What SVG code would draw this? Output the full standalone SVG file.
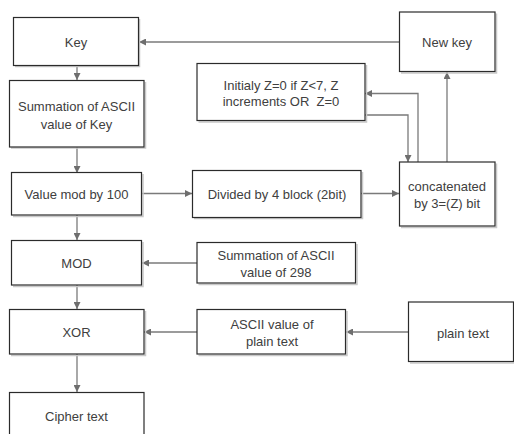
<svg xmlns="http://www.w3.org/2000/svg" width="514" height="434" viewBox="0 0 514 434">
<defs>
<style>
.box{fill:#fff;stroke:#2b2b2b;stroke-width:1.2}
.sh{fill:none;stroke:#c8c8c8;stroke-width:1.5}
.t{font-family:"Liberation Sans",Arial,sans-serif;font-size:13px;fill:#404040;text-anchor:middle}
.c{fill:none;stroke:#7a7a7a;stroke-width:1.3}
</style>
<marker id="ah" viewBox="0 0 10 10" refX="10" refY="5" markerWidth="7" markerHeight="7" orient="auto" markerUnits="userSpaceOnUse">
<path d="M0,0 L10,5 L0,10 z" fill="#6e6e6e"/>
</marker>
</defs>
<rect width="514" height="434" fill="#fff"/>
<g id="connectors">
<path class="c" d="M399,42 H139" marker-end="url(#ah)"/>
<path class="c" d="M77,65 V80" marker-end="url(#ah)"/>
<path class="c" d="M77,147 V173" marker-end="url(#ah)"/>
<path class="c" d="M142,193.5 H192" marker-end="url(#ah)"/>
<path class="c" d="M361,193.5 H399" marker-end="url(#ah)"/>
<path class="c" d="M447,162 V72" marker-end="url(#ah)"/>
<path class="c" d="M418,162 V93.5 H365" marker-end="url(#ah)"/>
<path class="c" d="M365,115 H408 V162" marker-end="url(#ah)"/>
<path class="c" d="M77,215 V240" marker-end="url(#ah)"/>
<path class="c" d="M197,263 H142" marker-end="url(#ah)"/>
<path class="c" d="M77,285 V309" marker-end="url(#ah)"/>
<path class="c" d="M408,332 H346" marker-end="url(#ah)"/>
<path class="c" d="M197,332 H144" marker-end="url(#ah)"/>
<path class="c" d="M77,354 V392" marker-end="url(#ah)"/>
</g>
<g id="key">
<path class="sh" d="M15,66.5 H139.5 V19"/>
<rect class="box" x="13.5" y="17.5" width="125" height="48"/>
<text class="t" x="76" y="46.5">Key</text>
</g>
<g id="sum-key">
<path class="sh" d="M11,148 H145.5 V82"/>
<rect class="box" x="9.5" y="80.5" width="134.5" height="66.5"/>
<text class="t" x="76.5" y="110.5">Summation of ASCII</text>
<text class="t" x="76.5" y="128.5">value of Key</text>
</g>
<g id="value-mod">
<path class="sh" d="M13,216.5 H143 V174"/>
<rect class="box" x="11.5" y="172.5" width="130" height="42.5"/>
<text class="t" x="76.5" y="198.5">Value mod by 100</text>
</g>
<g id="divided">
<path class="sh" d="M194,218.5 H362.5 V172"/>
<rect class="box" x="192.5" y="170.5" width="168.5" height="47"/>
<text class="t" x="277" y="198.5">Divided by 4 block (2bit)</text>
</g>
<g id="initialy">
<path class="sh" d="M198.5,122 H366.5 V65"/>
<rect class="box" x="197" y="63.5" width="168" height="57"/>
<text class="t" x="281" y="89.5">Initialy Z=0 if Z&lt;7, Z</text>
<text class="t" x="281" y="106">increments OR &#160;Z=0</text>
</g>
<g id="new-key">
<path class="sh" d="M401,73 H496.5 V13.5"/>
<rect class="box" x="399.5" y="12" width="95.5" height="59.5"/>
<text class="t" x="447" y="47">New key</text>
</g>
<g id="concat">
<path class="sh" d="M401,227.5 H496.5 V163.5"/>
<rect class="box" x="399.5" y="162" width="95.5" height="64"/>
<text class="t" x="447" y="190.5">concatenated</text>
<text class="t" x="447" y="207.5">by 3=(Z) bit</text>
</g>
<g id="mod">
<path class="sh" d="M13,286.5 H143 V242"/>
<rect class="box" x="11.5" y="240.5" width="130" height="44.5"/>
<text class="t" x="76.5" y="267.5">MOD</text>
</g>
<g id="sum-298">
<path class="sh" d="M198.5,284.5 H357 V244"/>
<rect class="box" x="197" y="242.5" width="158.5" height="40.5"/>
<text class="t" x="276" y="259.5">Summation of ASCII</text>
<text class="t" x="276" y="276.5">value of 298</text>
</g>
<g id="xor">
<path class="sh" d="M11,355.5 H145.5 V311"/>
<rect class="box" x="9.5" y="309.5" width="134.5" height="44.5"/>
<text class="t" x="76.5" y="337">XOR</text>
</g>
<g id="ascii-plain">
<path class="sh" d="M198.5,355.5 H347 V311"/>
<rect class="box" x="197" y="309.5" width="148.5" height="44.5"/>
<text class="t" x="272" y="328.5">ASCII value of</text>
<text class="t" x="272" y="346">plain text</text>
</g>
<g id="plain-text">
<path class="sh" d="M410,363 H515"/>
<rect class="box" x="408.5" y="302" width="105" height="59.5"/>
<text class="t" x="463" y="337.5">plain text</text>
</g>
<g id="cipher">
<rect class="box" x="9.5" y="392.5" width="134.5" height="45"/>
<text class="t" x="76.5" y="420.5">Cipher text</text>
</g>
</svg>
